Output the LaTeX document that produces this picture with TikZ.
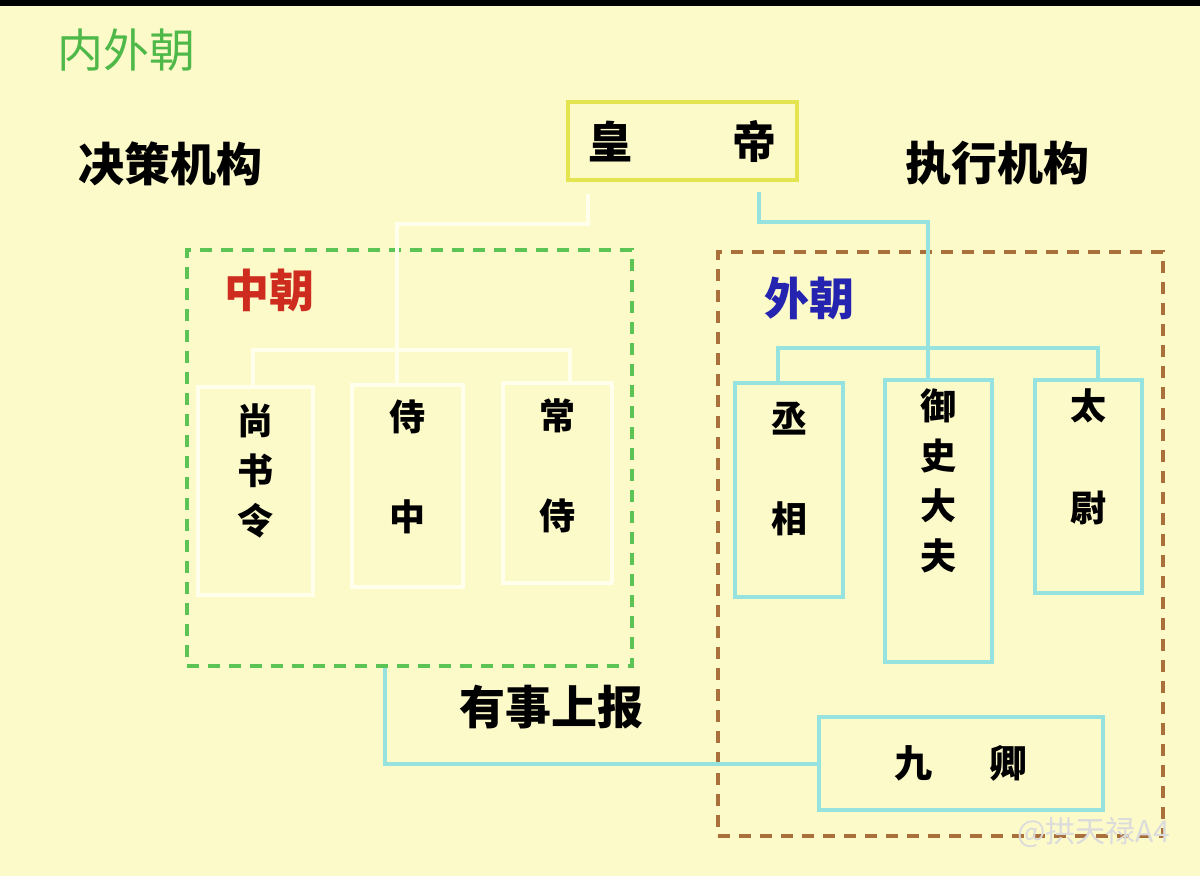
\documentclass[tikz,border=0pt]{standalone}
\usepackage{fontspec}
\newfontfamily\cjk{Noto Sans CJK SC}
\usetikzlibrary{positioning}

\definecolor{bgyellow}{RGB}{253,250,202}
\definecolor{titlegreen}{RGB}{78,184,72}
\definecolor{dashgreen}{RGB}{92,196,84}
\definecolor{dashbrown}{RGB}{170,112,60}
\definecolor{boxyellow}{RGB}{228,228,80}
\definecolor{linecyan}{RGB}{150,226,222}
\definecolor{linewhite}{RGB}{255,255,236}
\definecolor{zhongred}{RGB}{206,44,30}
\definecolor{waiblue}{RGB}{36,36,176}

\tikzset{
	bigtext/.style={font=\cjk\bfseries\fontsize{46}{46}\selectfont, inner sep=0pt},
	coltext/.style={font=\cjk\bfseries\fontsize{36}{50}\selectfont, align=center, inner sep=0pt, anchor=north},
	whitebox/.style={draw=linewhite, line width=4pt, inner sep=0pt},
	cyanbox/.style={draw=linecyan, line width=4pt, inner sep=0pt},
	whiteline/.style={draw=linewhite, line width=4pt},
	cyanline/.style={draw=linecyan, line width=4pt},
	courtbox/.style={line width=4pt, dash pattern=on 12pt off 9pt, inner sep=0pt}
}

\begin{document}
\begin{tikzpicture}[x=1pt,y=-1pt]
	\fill [bgyellow] (0,0) rectangle (1200,876);
	\fill [black] (0,0) rectangle (1200,6);
	\useasboundingbox (0,0) rectangle (1200,876);

	% headings
	\node [bigtext, text=titlegreen, font=\cjk\fontsize{46}{46}\selectfont] (neiwai) at (126,50) {内外朝};
	\node [bigtext] (juece) at (170,164) {决策机构};
	\node [bigtext] (zhixing) at (997,163) {执行机构};
	\node [bigtext] (report) at (551,707) {有事上报};

	% emperor
	\node [draw=boxyellow, line width=4pt, minimum width=229pt, minimum height=78pt,
		font=\cjk\bfseries\fontsize{44}{44}\selectfont] (emperor) at (682.5,141) {皇\hspace{100pt}帝};

	% the two courts
	\node [courtbox, draw=dashgreen, minimum width=445pt, minimum height=416pt] (zhongchao) at (409.5,458) {};
	\node [courtbox, draw=dashbrown, minimum width=445pt, minimum height=584pt] (waichao) at (940.5,544) {};
	\node [bigtext, text=zhongred, font=\cjk\bfseries\fontsize{45}{45}\selectfont] (zhongname) at (269,290) {中朝};
	\node [bigtext, text=waiblue, font=\cjk\bfseries\fontsize{45}{45}\selectfont] (wainame) at (809,298) {外朝};

	% inner court offices
	\node [whitebox, minimum width=115pt, minimum height=208pt] (shangshu) at (255.5,491) {};
	\node [whitebox, minimum width=111pt, minimum height=202pt] (shizhong) at (407.5,486) {};
	\node [whitebox, minimum width=109pt, minimum height=200pt] (changshi) at (557.5,483) {};
	\node [coltext] at ([yshift=-19pt]shangshu.north) {尚\\书\\令};
	\node [coltext] at ([yshift=-17pt]shizhong.north) {侍\\[50pt]中};
	\node [coltext] at ([yshift=-17pt]changshi.north) {常\\[50pt]侍};

	% outer court offices
	\node [cyanbox, minimum width=108pt, minimum height=214pt] (chengxiang) at (789,490) {};
	\node [cyanbox, minimum width=107pt, minimum height=282pt] (yushi) at (938.5,521) {};
	\node [cyanbox, minimum width=107pt, minimum height=213pt] (taiwei) at (1088.5,486.5) {};
	\node [coltext] at ([yshift=-21pt]chengxiang.north) {丞\\[50pt]相};
	\node [coltext] at ([yshift=-10pt]yushi.north) {御\\史\\大\\夫};
	\node [coltext] at ([yshift=-11pt]taiwei.north) {太\\[52pt]尉};

	\node [cyanbox, minimum width=284pt, minimum height=93pt,
		font=\cjk\bfseries\fontsize{38}{38}\selectfont] (jiuqing) at (961,763.5) {九\hspace{58pt}卿\hspace{42pt}};

	% branch points
	\coordinate (whub) at (397,350);
	\coordinate (chub) at (928,348);

	% emperor to inner court
	\draw [whiteline] ([xshift=22pt,yshift=-12pt]emperor.south west) -- ++(0,30) -| (whub);
	\draw [whiteline] ([xshift=-3pt]shangshu.north) |- (whub) -| ([xshift=12pt]changshi.north);
	\draw [whiteline] (whub) -- (whub |- shizhong.north);

	% emperor to outer court
	\draw [cyanline] ([xshift=-40pt,yshift=-10pt]emperor.south east) -- ++(0,30) -| (chub);
	\draw [cyanline] (chub) -- (chub |- yushi.north);
	\draw [cyanline] ([xshift=-11pt]chengxiang.north) |- (chub) -| ([xshift=9pt]taiwei.north);

	% report line
	\draw [cyanline] (jiuqing.west) -| ([xshift=200pt]zhongchao.south west);

	% mark
	\node [font=\cjk\fontsize{30}{30}\selectfont, text=white!72!gray, inner sep=0pt] (mark) at (1094,832) {@拱天禄A4};
\end{tikzpicture}
\end{document}
